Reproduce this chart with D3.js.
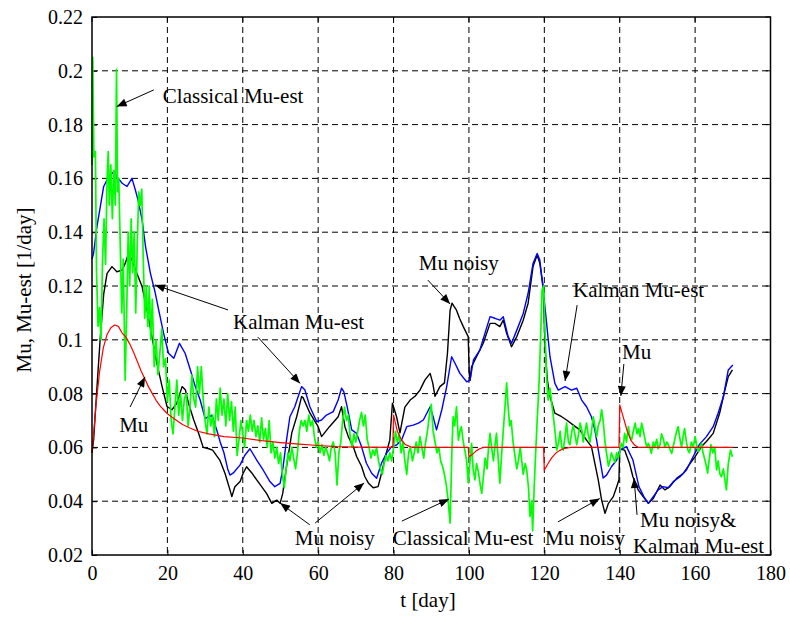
<!DOCTYPE html>
<html>
<head>
<meta charset="utf-8">
<script src="https://cdn.jsdelivr.net/npm/d3@7"></script>
<style>
  html, body { margin: 0; padding: 0; background: #fff; }
  svg { display: block; }
  text { font-family: "Liberation Serif", "Times New Roman", serif; fill: #000; }
</style>
</head>
<body>
<svg id="chart" width="790" height="617"></svg>
<script>
// ---- data: [t (day), value (1/day)] ----
const muTrue = [
  [0,0.058],[0.5,0.066],[1,0.075],[2,0.088],[3,0.097],[4,0.102],[5,0.1045],[6,0.1055],[7,0.105],
  [8,0.1025],[9,0.101],[10,0.0985],[11,0.0955],[12,0.092],[13,0.0885],[14,0.0855],[15,0.0825],
  [16,0.08],[17,0.0775],[18,0.0755],[19,0.074],[20,0.0725],[22,0.0705],[24,0.0685],[26,0.0672],
  [28,0.066],[31,0.065],[35,0.064],[40,0.0635],[45,0.0625],[50,0.0618],[55,0.0612],[60,0.0607],
  [65,0.0603],[70,0.0601],[79.8,0.06],[80,0.072],[80.5,0.069],[81,0.066],[82,0.063],[83,0.0612],
  [84.5,0.0602],[86,0.06],[99.8,0.06],[100,0.0565],[101,0.0575],[102,0.0588],[103,0.0596],
  [104,0.06],[119.8,0.06],[120,0.0515],[121,0.054],[122,0.0562],[123,0.0578],[124,0.0588],
  [125,0.0595],[127,0.06],[139.8,0.06],[140,0.0758],[141,0.071],[142,0.066],[143,0.0625],
  [144,0.0608],[145,0.06],[170,0.06]
];

const muNoisy = [
  [0,0.058],[0.44,0.063],[1.33,0.0826],[2.2,0.101],[3.1,0.117],[4,0.1247],[5.3,0.1272],[6.6,0.1253],
  [8,0.1259],[8.8,0.1284],[9.7,0.1321],[10.6,0.1297],[11.9,0.1247],[13.3,0.1197],[14.6,0.1111],
  [15.9,0.1012],[17.2,0.0913],[18.6,0.0826],[19.9,0.0752],[21.2,0.074],[22.5,0.0764],[23.9,0.0826],
  [24.8,0.0813],[25.6,0.0764],[27,0.0702],[28.3,0.0652],[29.5,0.06],[31,0.0595],[32,0.059],
  [33.9,0.0553],[35.3,0.0503],[36.6,0.0442],[37.1,0.0417],[37.9,0.0454],[39.3,0.0473],[40.1,0.0504],
  [41,0.0528],[42.4,0.0505],[43.7,0.0479],[45,0.0454],[46.3,0.0429],[47.7,0.0392],[49,0.0404],
  [49.9,0.0392],[50.6,0.0429],[51.6,0.0528],[53,0.0654],[54.3,0.0714],[55.6,0.0789],[56,0.0785],
  [57.8,0.0728],[60,0.0677],[60.9,0.064],[63,0.0677],[65.3,0.0714],[66.2,0.0751],[67.1,0.0677],
  [68,0.064],[69.3,0.0603],[70.2,0.0566],[71.5,0.053],[72.4,0.0491],[73.3,0.0468],[74.6,0.045],
  [75.9,0.0454],[76.8,0.0504],[78.1,0.058],[79,0.0627],[79.7,0.0764],[80.8,0.0714],[81.7,0.0654],
  [83,0.075],[84.4,0.0776],[85.7,0.079],[87,0.0813],[88.3,0.085],[89.7,0.0875],[90.4,0.0839],
  [91,0.079],[92.3,0.0826],[93.5,0.084],[94.3,0.095],[95,0.111],[95.5,0.1136],[96,0.1125],
  [96.7,0.111],[97.5,0.108],[98.5,0.1049],[99.8,0.1012],[100.1,0.087],[100.3,0.085],[100.7,0.09],
  [102,0.0937],[103.8,0.0987],[105.6,0.1061],[106.9,0.1061],[108.2,0.1049],[109.1,0.1073],
  [110,0.1024],[111.3,0.0974],[112.7,0.1012],[114.4,0.1073],[115.7,0.1136],[117,0.1272],
  [118.1,0.1315],[118.8,0.1284],[119.7,0.1197],[120.2,0.097],[120.8,0.085],[121.5,0.0789],
  [122.8,0.0727],[124.6,0.0714],[125.9,0.0702],[127.7,0.0683],[129.4,0.0665],[131.2,0.0627],
  [132.5,0.0603],[133.4,0.0541],[134.3,0.0479],[135.2,0.0404],[136.1,0.0355],[137,0.0392],
  [138.3,0.0417],[139.2,0.0454],[139.8,0.048],[140,0.0594],[141.3,0.059],[142.6,0.054],
  [143.5,0.0491],[144.9,0.0442],[146.2,0.0417],[147.6,0.0392],[148.9,0.041],[150.7,0.046],
  [152,0.0442],[153.3,0.0454],[155.1,0.0485],[156.9,0.0504],[158.7,0.0541],[160,0.0566],
  [161.7,0.0603],[163,0.0622],[164.8,0.0652],[166.5,0.0727],[167.9,0.0813],[168.8,0.0863],
  [169.9,0.0888]
];

const kalmanEst = [
  [0,0.13],[0.4,0.132],[1.3,0.142],[2.2,0.1495],[3.1,0.157],[4.4,0.1606],[5.8,0.1625],[6.6,0.1606],
  [8,0.1582],[9.3,0.157],[10.6,0.16],[11.5,0.1557],[12.2,0.152],[13.3,0.1445],[14.2,0.1346],
  [15.5,0.1247],[16.8,0.1173],[17.7,0.111],[19,0.1024],[20.3,0.095],[21.7,0.0931],[23.2,0.0987],
  [24.7,0.095],[26.1,0.0888],[27.4,0.0826],[28.7,0.0776],[30,0.0708],[31.8,0.072],[33.2,0.066],
  [34,0.062],[35,0.058],[36,0.052],[36.6,0.0497],[37.5,0.0505],[39.3,0.0535],[40.5,0.057],
  [41.9,0.0595],[43.7,0.0553],[45.4,0.0516],[47.2,0.0473],[48.5,0.0454],[49.9,0.0466],[50.7,0.0528],
  [51.6,0.0627],[52.5,0.0714],[53.8,0.0751],[54.7,0.0789],[55.6,0.0826],[56.5,0.0813],[57.8,0.0751],
  [59.6,0.0696],[60.9,0.0702],[62.2,0.072],[64,0.0733],[65.3,0.0776],[66.2,0.082],[66.8,0.0807],
  [67.7,0.0751],[68.9,0.0665],[70.2,0.0652],[71.5,0.0603],[72.8,0.0541],[74.2,0.0504],[75.5,0.0485],
  [76.8,0.0541],[78.1,0.0578],[79.5,0.0603],[80.8,0.0609],[82.1,0.0627],[83.5,0.0677],[85.2,0.0683],
  [86.6,0.069],[87.9,0.0702],[89.7,0.0751],[90.5,0.0714],[91.4,0.0665],[92.8,0.074],[94.1,0.0826],
  [95.4,0.0937],[96.3,0.0913],[97.6,0.0875],[99.4,0.0844],[100.3,0.085],[101.2,0.0925],[102.9,0.0962],
  [105.6,0.1086],[106.9,0.108],[108.2,0.1073],[109.1,0.1086],[110.4,0.1012],[111.3,0.0987],
  [112.7,0.1036],[114.4,0.1098],[115.7,0.1173],[117,0.1284],[118.1,0.1321],[118.8,0.1297],
  [119.7,0.1185],[120.6,0.1061],[121.5,0.0937],[122.8,0.0838],[123.7,0.0813],[125.5,0.0826],
  [127.2,0.0813],[128.6,0.082],[129.9,0.0776],[131.2,0.0751],[132.5,0.0714],[133.4,0.0665],
  [134.3,0.0592],[135.6,0.0486],[136.5,0.0497],[137.8,0.0528],[139.2,0.0553],[140,0.059],
  [141.8,0.0603],[143.5,0.0553],[145.1,0.0454],[146.4,0.0417],[147.6,0.0392],[148.9,0.0417],
  [150.2,0.0442],[151.5,0.0454],[152.9,0.045],[154.2,0.0473],[156,0.0491],[157.7,0.0516],
  [159.5,0.0566],[161.2,0.0612],[163,0.064],[164.8,0.0677],[166.1,0.0727],[167.5,0.0789],
  [168.8,0.0888],[170,0.0906]
];

const classicalEst = [
  [0,0.165],[0.2,0.205],[0.5,0.168],[0.9,0.17],[1.2,0.125],[1.6,0.105],[2,0.112],[2.4,0.1],[2.8,0.13],
  [3.2,0.145],[3.6,0.128],[4,0.16],[4.3,0.17],[4.6,0.15],[5,0.165],[5.4,0.145],[5.8,0.163],[6.2,0.15],
  [6.5,0.2005],[6.8,0.155],[7.1,0.16],[7.5,0.135],[7.9,0.11],[8.3,0.13],[8.8,0.085],[9.2,0.11],
  [9.6,0.14],[10,0.12],[10.4,0.145],[10.8,0.125],[11.2,0.14],[11.6,0.11],[12,0.135],[12.4,0.155],
  [12.8,0.15],[13.2,0.156],[13.6,0.13],[14,0.108],[14.4,0.12],[14.8,0.105],[15.2,0.12],[15.6,0.1],
  [16,0.115],[16.5,0.09],[17,0.1],[17.5,0.087],[18,0.095],[18.5,0.104],[19,0.09],[19.5,0.093],
  [20,0.077],[20.5,0.085],[21,0.07],[21.5,0.065],[22,0.075],[22.5,0.085],[23,0.072],[23.5,0.08],
  [24,0.07],[24.5,0.078],[25,0.08],[25.5,0.068],[26,0.075],[26.5,0.087],[27,0.078],[27.5,0.075],
  [28,0.09],[28.5,0.08],[29,0.09],[29.5,0.078],[30,0.07],[30.5,0.065],[31,0.075],[31.5,0.068],
  [32,0.072],[32.5,0.064],[33,0.078],[33.5,0.07],[34,0.082],[34.5,0.072],[35,0.078],[35.5,0.068],
  [36,0.08],[36.5,0.07],[37,0.077],[37.5,0.066],[38,0.075],[38.5,0.057],[39,0.063],[39.5,0.07],
  [40,0.065],[40.5,0.06],[41,0.07],[41.5,0.066],[42,0.072],[42.5,0.066],[43,0.07],[43.5,0.064],
  [44,0.068],[44.5,0.062],[45,0.071],[45.5,0.063],[46,0.067],[46.5,0.06],[47,0.07],[47.5,0.058],
  [48,0.062],[48.5,0.056],[49,0.06],[49.5,0.054],[50,0.058],[50.5,0.05],[51,0.045],[51.5,0.052],
  [52,0.058],[52.5,0.055],[53,0.06],[53.5,0.056],[54,0.052],[54.5,0.058],[55,0.066],[55.5,0.07],
  [56,0.068],[56.5,0.07],[57,0.066],[57.5,0.072],[58,0.068],[58.5,0.07],[59,0.064],[59.5,0.06],
  [60,0.062],[60.5,0.058],[61,0.061],[61.5,0.057],[62,0.06],[62.5,0.058],[63,0.055],[63.5,0.06],
  [64,0.062],[64.5,0.058],[65,0.046],[65.5,0.058],[66,0.062],[66.5,0.07],[67,0.075],[67.5,0.07],
  [68,0.072],[68.5,0.064],[69,0.06],[69.5,0.065],[70,0.062],[70.5,0.066],[71,0.07],[71.5,0.073],
  [72,0.068],[72.5,0.072],[73,0.063],[73.5,0.06],[74,0.056],[74.5,0.059],[75,0.057],[75.5,0.06],
  [76,0.055],[76.5,0.052],[77,0.05],[77.5,0.054],[78,0.057],[78.5,0.055],[79,0.058],[79.5,0.055],
  [80,0.06],[80.5,0.066],[81,0.062],[81.5,0.065],[82,0.058],[82.5,0.062],[83,0.055],[83.5,0.05],
  [84,0.058],[84.5,0.06],[85,0.055],[85.5,0.058],[86,0.062],[86.5,0.058],[87,0.064],[87.5,0.06],
  [88,0.056],[88.5,0.062],[89,0.066],[89.5,0.072],[90,0.076],[90.5,0.066],[91,0.062],[91.5,0.058],
  [92,0.06],[92.5,0.055],[93,0.053],[93.5,0.05],[94,0.046],[94.5,0.04],[95,0.0318],[95.5,0.06],
  [95.8,0.0714],[96.2,0.068],[96.7,0.0751],[97.2,0.0627],[97.6,0.066],[98,0.0677],[98.5,0.062],
  [98.9,0.059],[99.4,0.055],[99.8,0.0468],[100.3,0.055],[100.7,0.0615],[101.1,0.052],[101.6,0.0479],
  [102,0.054],[102.5,0.051],[103,0.046],[103.4,0.0429],[103.9,0.05],[104.3,0.056],[104.8,0.052],
  [105.2,0.06],[105.6,0.0652],[106,0.06],[106.5,0.055],[107,0.062],[107.3,0.0652],[107.8,0.055],
  [108.2,0.0467],[108.7,0.058],[109.1,0.066],[109.5,0.0739],[110,0.084],[110.4,0.075],[110.8,0.068],
  [111.2,0.07],[111.7,0.062],[112.1,0.058],[112.7,0.052],[113.1,0.055],[113.6,0.06],[114,0.055],
  [114.4,0.05],[114.9,0.054],[115.3,0.052],[115.8,0.045],[116.2,0.0343],[116.6,0.04],[116.9,0.029],
  [117.3,0.045],[117.7,0.058],[118.1,0.07],[118.6,0.084],[119,0.1],[119.4,0.1185],[119.8,0.12],
  [120.2,0.102],[120.6,0.0863],[121,0.0776],[121.5,0.082],[122,0.076],[122.4,0.0714],[122.9,0.065],
  [123.3,0.059],[123.8,0.062],[124.2,0.066],[124.6,0.06],[125,0.059],[125.5,0.064],[125.9,0.069],
  [126.4,0.062],[126.8,0.061],[127.3,0.066],[127.7,0.068],[128.2,0.064],[128.6,0.061],[129.1,0.065],
  [129.5,0.069],[130,0.066],[130.3,0.062],[130.8,0.066],[131.2,0.069],[131.6,0.065],[132.1,0.062],
  [132.5,0.066],[133,0.0714],[133.4,0.068],[133.9,0.064],[134.3,0.068],[134.8,0.07],[135.2,0.074],
  [135.6,0.07],[136.1,0.062],[136.5,0.058],[137,0.053],[137.4,0.055],[137.8,0.058],[138.3,0.056],
  [138.7,0.0545],[139.2,0.058],[139.6,0.056],[140,0.0585],[140.4,0.0615],[140.9,0.06],[141.3,0.0652],
  [141.8,0.062],[142.3,0.0677],[142.7,0.064],[143.2,0.063],[143.6,0.066],[144.1,0.069],[144.6,0.065],
  [145,0.067],[145.4,0.064],[145.8,0.069],[146.3,0.066],[146.7,0.063],[147.2,0.06],[147.6,0.0615],
  [148,0.06],[148.4,0.0578],[148.9,0.062],[149.3,0.06],[149.8,0.063],[150.2,0.0595],[150.7,0.061],
  [151.1,0.065],[151.6,0.063],[152,0.06],[152.5,0.062],[152.9,0.061],[153.4,0.059],[153.8,0.0578],
  [154.3,0.061],[154.6,0.063],[155.1,0.066],[155.5,0.0677],[156,0.063],[156.4,0.06],[156.8,0.064],
  [157.2,0.067],[157.7,0.062],[158.1,0.059],[158.5,0.058],[159,0.062],[159.5,0.06],[160,0.064],
  [160.4,0.061],[160.8,0.0585],[161.3,0.06],[161.7,0.0615],[162.1,0.058],[162.6,0.0553],[163,0.053],
  [163.3,0.0504],[163.8,0.056],[164.2,0.061],[164.7,0.058],[165.2,0.06],[165.7,0.0516],[166.1,0.055],
  [166.6,0.05],[167,0.0491],[167.5,0.052],[167.9,0.048],[168.3,0.0442],[168.8,0.054],[169.4,0.059],
  [169.9,0.0565]
];

const xTickValues = [0, 20, 40, 60, 80, 100, 120, 140, 160, 180];
const yTickValues = [0.02, 0.04, 0.06, 0.08, 0.1, 0.12, 0.14, 0.16, 0.18, 0.2, 0.22];
const yTickLabels = ["0.02", "0.04", "0.06", "0.08", "0.1", "0.12", "0.14", "0.16", "0.18", "0.2", "0.22"];

// ---- layout ----
const svg = d3.select("#chart");
const box = { left: 92, right: 770.5, top: 17, bottom: 555 };

const x = d3.scaleLinear().domain([0, 180]).range([box.left, box.right]);
const y = d3.scaleLinear().domain([0.02, 0.22]).range([box.bottom, box.top]);

svg.append("rect").attr("width", 790).attr("height", 617).attr("fill", "#fff");

// dashed grid
const grid = svg.append("g").attr("stroke", "#000").attr("stroke-width", 1)
  .attr("stroke-dasharray", "6,4").attr("fill", "none");
xTickValues.filter(d => d > 0 && d < 180).forEach(d => {
  grid.append("line").attr("x1", x(d)).attr("x2", x(d)).attr("y1", box.top).attr("y2", box.bottom);
});
yTickValues.filter(d => d > 0.021 && d < 0.219).forEach(d => {
  grid.append("line").attr("x1", box.left).attr("x2", box.right).attr("y1", y(d)).attr("y2", y(d));
});

// axes with labels
const xAxis = d3.axisBottom(x).tickValues(xTickValues).tickSize(5).tickPadding(6).tickFormat(d3.format("d"));
const gx = svg.append("g").attr("transform", `translate(0,${box.bottom})`).call(xAxis);
const yAxis = d3.axisLeft(y).tickValues(yTickValues).tickSize(5).tickPadding(4)
  .tickFormat((d, i) => yTickLabels[i]);
const gy = svg.append("g").attr("transform", `translate(${box.left},0)`).call(yAxis);

[gx, gy].forEach(g => {
  g.select(".domain").remove();
  g.selectAll("text").attr("font-family", "Liberation Serif, Times New Roman, serif")
    .attr("font-size", 20).attr("fill", "#000");
});
// ticks point inward
gx.selectAll(".tick line").attr("y2", -5).attr("stroke", "#000");
gy.selectAll(".tick line").attr("x2", 5).attr("stroke", "#000");
gx.selectAll(".tick text").attr("y", 11);
gy.selectAll(".tick text").attr("x", -9);

// inward ticks on top and right
const ticksTR = svg.append("g").attr("stroke", "#000").attr("stroke-width", 1);
xTickValues.forEach(d => ticksTR.append("line").attr("x1", x(d)).attr("x2", x(d)).attr("y1", box.top).attr("y2", box.top + 5));
yTickValues.forEach(d => ticksTR.append("line").attr("x1", box.right).attr("x2", box.right - 5).attr("y1", y(d)).attr("y2", y(d)));

// series
const line = d3.line().x(d => x(d[0])).y(d => y(d[1]));
const plot = svg.append("g").attr("fill", "none").attr("stroke-linejoin", "round");
plot.append("path").datum(muNoisy).attr("d", line).attr("stroke", "#000").attr("stroke-width", 1.4);
plot.append("path").datum(kalmanEst).attr("d", line).attr("stroke", "#0000ff").attr("stroke-width", 1.4);
plot.append("path").datum(classicalEst).attr("d", line).attr("stroke", "#00ff00").attr("stroke-width", 1.7);
plot.append("path").datum(muTrue).attr("d", line).attr("stroke", "#ff0000").attr("stroke-width", 1.2);

// frame
svg.append("rect").attr("x", box.left).attr("y", box.top)
  .attr("width", box.right - box.left).attr("height", box.bottom - box.top)
  .attr("fill", "none").attr("stroke", "#000").attr("stroke-width", 1.5);

// annotations (positions in data units)
svg.append("defs").append("marker")
  .attr("id", "head").attr("viewBox", "0 0 10 8").attr("refX", 10).attr("refY", 4)
  .attr("markerWidth", 11).attr("markerHeight", 8).attr("markerUnits", "userSpaceOnUse")
  .attr("orient", "auto")
  .append("path").attr("d", "M0,0 L10,4 L0,8 Z").attr("fill", "#000");

const notes = [
  { text: ["Classical Mu-est"], at: [18.8, 0.1906], arrows: [[[16.4, 0.1929], [6.55, 0.1867]]] },
  { text: ["Kalman Mu-est"], at: [37.4, 0.1066], arrows: [[[36.1, 0.1111], [16.7, 0.1204]], [[44.0, 0.101], [55.2, 0.0838]]] },
  { text: ["Mu"], at: [7.2, 0.0683], arrows: [[[10.1, 0.075], [14.06, 0.0862]]] },
  { text: ["Mu noisy"], at: [53.8, 0.0263], arrows: [[[57.8, 0.0312], [49.9, 0.0393]], [[59.2, 0.0319], [72.2, 0.0468]]] },
  { text: ["Classical Mu-est"], at: [79.8, 0.0263], arrows: [[[82.2, 0.0326], [94.7, 0.0408]]] },
  { text: ["Mu noisy"], at: [120.2, 0.0263], arrows: [[[123.6, 0.0323], [134.7, 0.041]]] },
  { text: ["Mu noisy&"], at: [145.4, 0.033], arrows: [[[144.6, 0.0349], [143.8, 0.0486]]] },
  { text: ["Kalman Mu-est"], at: [143.5, 0.0234], arrows: [] },
  { text: ["Mu noisy"], at: [86.7, 0.1286], arrows: [[[89.1, 0.1222], [95.0, 0.1133]]] },
  { text: ["Kalman Mu-est"], at: [127.6, 0.1185], arrows: [[[128.7, 0.1129], [125.5, 0.0847]]] },
  { text: ["Mu"], at: [140.6, 0.0955], arrows: [[[141.1, 0.091], [140.3, 0.0791]]] }
];

const ann = svg.append("g");
notes.forEach(n => {
  n.arrows.forEach(a => {
    ann.append("line")
      .attr("x1", x(a[0][0])).attr("y1", y(a[0][1]))
      .attr("x2", x(a[1][0])).attr("y2", y(a[1][1]))
      .attr("stroke", "#000").attr("stroke-width", 1).attr("marker-end", "url(#head)");
  });
  ann.append("text").attr("x", x(n.at[0])).attr("y", y(n.at[1]))
    .attr("dy", "0.35em").attr("font-size", 21).text(n.text[0]);
});

// axis titles
svg.append("text").attr("x", 428).attr("y", 600).attr("dy", "0.35em")
  .attr("text-anchor", "middle").attr("font-size", 21).text("t [day]");
svg.append("text").attr("transform", "translate(24,290) rotate(-90)")
  .attr("dy", "0.35em").attr("text-anchor", "middle").attr("font-size", 21)
  .text("Mu, Mu-est [1/day]");
</script>
</body>
</html>
